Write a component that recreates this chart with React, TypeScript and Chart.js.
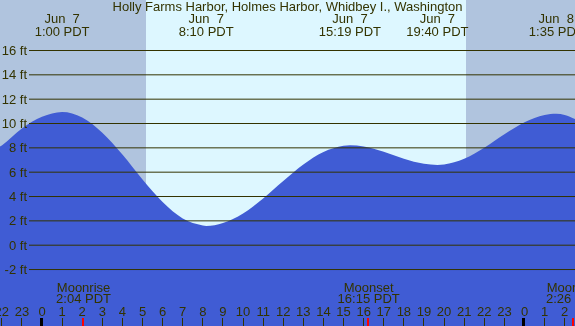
import { useEffect, useRef } from 'react';
import { Chart, registerables } from 'chart.js';

Chart.register(...registerables);

const chartTitle = 'Holly Farms Harbor, Holmes Harbor, Whidbey I., Washington';

// tide curve (hours from local midnight Jun 7, feet)
const tideHours = [-2.1, -2, -1, 0, 1, 2, 3, 4, 5, 6, 7, 8, 8.17, 9, 10, 11, 12, 13, 14, 15, 15.32, 16, 17, 18, 19, 19.67, 20, 21, 22, 23, 24, 25, 25.58, 26, 26.6];
const tideFeet = [8.1, 8.2, 9.6, 10.55, 10.95, 10.5, 9.25, 7.45, 5.4, 3.55, 2.2, 1.62, 1.58, 1.82, 2.6, 3.84, 5.27, 6.63, 7.66, 8.17, 8.22, 8.11, 7.68, 7.11, 6.69, 6.6, 6.63, 7.1, 8.01, 9.11, 10.1, 10.7, 10.8, 10.7, 10.3];

const feetTicks = [16, 14, 12, 10, 8, 6, 4, 2, 0, -2];
const hourTicks = [-2, -1, 0, 1, 2, 3, 4, 5, 6, 7, 8, 9, 10, 11, 12, 13, 14, 15, 16, 17, 18, 19, 20, 21, 22, 23, 24, 25, 26];
const hourLabels = ['22', '23', '0', '1', '2', '3', '4', '5', '6', '7', '8', '9', '10', '11', '12', '13', '14', '15', '16', '17', '18', '19', '20', '21', '22', '23', '0', '1', '2'];
const midnightHours = [0, 24];

const tideEventHours = [1.0, 8.167, 15.317, 19.667, 25.583];
const tideEventDates = ['Jun  7', 'Jun  7', 'Jun  7', 'Jun  7', 'Jun  8'];
const tideEventTimes = ['1:00 PDT', '8:10 PDT', '15:19 PDT', '19:40 PDT', '1:35 PDT'];

const moonEventHours = [2.067, 16.25, 26.433];
const moonEventNames = ['Moonrise', 'Moonset', 'Moonrise'];
const moonEventTimes = ['2:04 PDT', '16:15 PDT', '2:26 PDT'];

const sunriseHour = 5.19;
const sunsetHour = 21.1;

const NIGHT = 'rgb(176,196,222)';
const DAY = 'rgb(221,247,255)';
const WATER = 'rgb(64,92,212)';
const INK = '#333300';
const FONT = '13px "Liberation Sans", Arial, sans-serif';

const tidePlugin = {
  id: 'tideDecor',
  beforeDatasetsDraw(chart: any) {
    const { ctx, chartArea, scales } = chart;
    const { left, right, top, bottom } = chartArea;
    const x = scales.x;
    ctx.save();
    ctx.fillStyle = NIGHT;
    ctx.fillRect(left, top, right - left, bottom - top);
    const sx = Math.round(x.getPixelForValue(sunriseHour));
    const ex = Math.round(x.getPixelForValue(sunsetHour));
    ctx.fillStyle = DAY;
    ctx.fillRect(sx, top, ex - sx, bottom - top);
    ctx.restore();
  },
  afterDatasetsDraw(chart: any) {
    const { ctx, chartArea, scales } = chart;
    const { right, bottom } = chartArea;
    const x = scales.x;
    const y = scales.y;
    ctx.save();
    ctx.font = FONT;
    ctx.fillStyle = INK;
    ctx.strokeStyle = INK;
    ctx.lineWidth = 1;
    ctx.textBaseline = 'alphabetic';

    // horizontal grid lines and labels
    feetTicks.forEach((f) => {
      const py = y.getPixelForValue(f);
      ctx.beginPath();
      ctx.moveTo(29, py);
      ctx.lineTo(right, py);
      ctx.stroke();
      ctx.textAlign = 'right';
      ctx.fillText(f + ' ft', 27, py + 4.5);
    });

    // title
    ctx.textAlign = 'center';
    ctx.fillText(chartTitle, chart.width / 2, 11);

    // tide events
    tideEventHours.forEach((h, i) => {
      const px = x.getPixelForValue(h);
      ctx.fillText(tideEventDates[i], px, 23);
      ctx.fillText(tideEventTimes[i], px, 36);
    });

    // moon events
    moonEventHours.forEach((h, i) => {
      const px = x.getPixelForValue(h);
      ctx.fillText(moonEventNames[i], px, 292);
      ctx.fillText(moonEventTimes[i], px, 303);
    });

    // hour labels and ticks
    hourTicks.forEach((h, i) => {
      const px = x.getPixelForValue(h);
      ctx.fillStyle = INK;
      ctx.fillText(hourLabels[i], px, 316);
      if (midnightHours.includes(h)) {
        ctx.fillStyle = '#000000';
        ctx.fillRect(Math.round(px) - 2, 318, 3, bottom - 318);
      } else {
        ctx.fillRect(Math.floor(px), 318, 1, bottom - 318);
      }
    });

    ctx.fillStyle = '#ff0000';
    moonEventHours.forEach((h) => {
      const px = x.getPixelForValue(h);
      ctx.fillRect(Math.floor(px) - 1, 318, 2, bottom - 318);
    });

    ctx.restore();
  },
};

export default function App() {
  const canvasRef = useRef<HTMLCanvasElement | null>(null);

  useEffect(() => {
    document.body.style.margin = '0';
    const canvas = canvasRef.current;
    if (!canvas) return;
    const chart = new Chart(canvas, {
      type: 'line',
      data: {
        datasets: [
          {
            data: tideHours.map((h, i) => ({ x: h, y: tideFeet[i] })),
            borderWidth: 0,
            borderColor: WATER,
            backgroundColor: WATER,
            pointRadius: 0,
            fill: 'start',
            cubicInterpolationMode: 'monotone',
          },
        ],
      },
      options: {
        responsive: false,
        animation: false,
        layout: { padding: 0 },
        plugins: {
          legend: { display: false },
          title: { display: false },
          tooltip: { enabled: false },
        },
        scales: {
          x: { type: 'linear', display: false, min: -2.089, max: 26.512 },
          y: { type: 'linear', display: false, min: -6.64, max: 20.15 },
        },
      },
      plugins: [tidePlugin],
    });
    return () => chart.destroy();
  }, []);

  return (
    <div style={{ width: 575, height: 326 }}>
      <canvas ref={canvasRef} width={575} height={326} style={{ display: 'block' }} />
    </div>
  );
}
